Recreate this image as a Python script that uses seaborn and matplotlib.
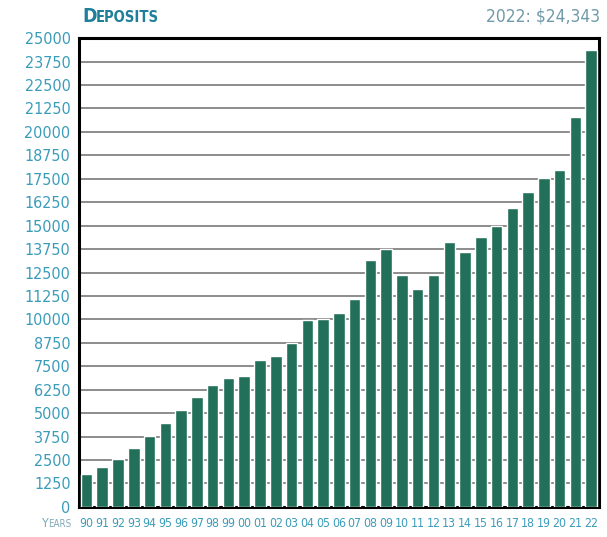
import matplotlib
matplotlib.use("Agg")
import matplotlib.pyplot as plt
import seaborn as sns
import pandas as pd

# Annual deposits, 1990-2022
years = ["90", "91", "92", "93", "94", "95", "96", "97", "98", "99",
         "00", "01", "02", "03", "04", "05", "06", "07", "08", "09",
         "10", "11", "12", "13", "14", "15", "16", "17", "18", "19",
         "20", "21", "22"]
deposits = [1750, 2150, 2550, 3150, 3800, 4450, 5150, 5870, 6500, 6900,
            7000, 7850, 8050, 8750, 9950, 10000, 10350, 11100, 13150, 13750,
            12350, 11600, 12350, 14150, 13600, 14400, 15000, 15950, 16800, 17550,
            17950, 20800, 24343]
y_ticks = list(range(0, 25001, 1250))

df = pd.DataFrame({"year": years, "deposits": deposits})

sns.set_style("white")
plt.rcParams["font.family"] = ["DejaVu Sans"]
plt.rcParams["font.stretch"] = "condensed"

BAR = "#23705a"
LABEL = "#3b9cba"
TITLE = "#1f7f9b"

fig = plt.figure(figsize=(6.07, 5.37), dpi=100)
ax = fig.add_axes([0.130, 0.056, 0.857, 0.873])

sns.barplot(data=df, x="year", y="deposits", order=years, color=BAR,
            saturation=1, width=0.73, ax=ax, zorder=3)

ax.set_xlim(-0.48, len(years) - 0.5)
ax.set_ylim(0, 25000)
ax.set_yticks(y_ticks)
ax.set_yticklabels([str(v) for v in y_ticks])
ax.yaxis.grid(True, color="#8c8c8c", linewidth=1.4, zorder=0)
ax.xaxis.grid(False)
ax.set_axisbelow(True)

ax.tick_params(axis="both", length=0, colors=LABEL)
ax.tick_params(axis="y", labelsize=11.5, pad=6)
ax.tick_params(axis="x", labelsize=8.8, pad=7)
for lab in ax.get_xticklabels() + ax.get_yticklabels():
    lab.set_color(LABEL)
    lab.set_fontstretch("condensed")
ax.set_xlabel("")
ax.set_ylabel("")

for s in ax.spines.values():
    s.set_visible(True)
    s.set_color("black")
    s.set_linewidth(2.2)

# Small-caps style title
fig.text(82 / 607, 1 - 22 / 537, "D", color=TITLE, fontsize=14,
         fontweight="bold", ha="left", va="baseline")
fig.text(96 / 607, 1 - 22 / 537, "EPOSITS", color=TITLE, fontsize=10.5,
         fontweight="bold", ha="left", va="baseline")

fig.text(600 / 607, 1 - 22 / 537, "2022: \\$24,343", color="#6f9aa8",
         fontsize=12.5, ha="right", va="baseline")

# Axis caption in front of the year labels
fig.text(41 / 607, 1 - 527 / 537, "Y", color="#7fa8b8", fontsize=9,
         ha="left", va="baseline")
fig.text(48 / 607, 1 - 527 / 537, "EARS", color="#7fa8b8", fontsize=7,
         ha="left", va="baseline")

fig.savefig("out.png", dpi=100, facecolor="white")
